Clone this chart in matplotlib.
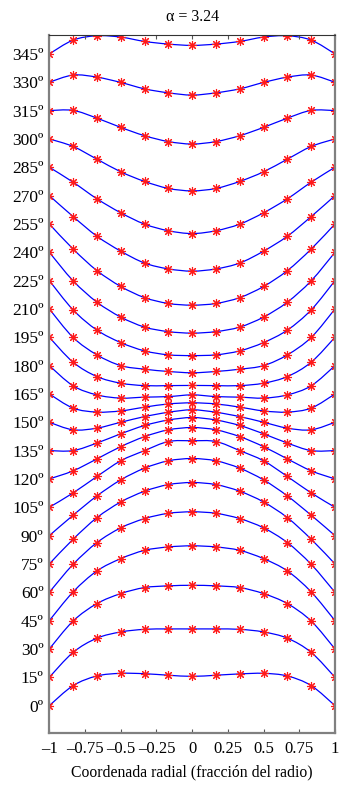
import numpy as np
import matplotlib
matplotlib.use("Agg")
import matplotlib.pyplot as plt
from matplotlib.path import Path
from matplotlib.patches import PathPatch

plt.rcParams["font.family"] = ["Liberation Serif", "DejaVu Serif"]
plt.rcParams["mathtext.fontset"] = "stix"

# radial positions of the samples (fraction of radius)
r = [-1, -5/6, -2/3, -1/2, -1/3, -1/6, 0, 1/6, 1/3, 1/2, 2/3, 5/6, 1]

# angle (deg) of each isoline at the sampled radial positions
curves = [
    [0, 10.6, 15.7, 17.1, 16.9, 16.1, 15.5, 16.1, 16.8, 17.1, 15.7, 10.6, 0],
    [15, 28.2, 35.7, 39.0, 40.4, 40.6, 40.6, 40.6, 40.4, 39.0, 35.7, 28.2, 15],
    [30, 44.8, 54.0, 59.3, 62.5, 63.4, 63.7, 63.4, 62.5, 59.3, 54.0, 44.8, 30],
    [45, 60.2, 71.3, 77.8, 82.2, 84.0, 84.6, 84.0, 82.2, 77.8, 71.3, 60.2, 45],
    [60, 74.8, 86.3, 94.1, 99.0, 101.8, 102.6, 101.8, 99.0, 94.1, 86.3, 74.8, 60],
    [75, 88.1, 99.5, 107.8, 113.5, 117.0, 118.1, 117.0, 113.5, 107.8, 99.5, 88.1, 75],
    [90, 100.8, 111.0, 119.5, 125.7, 129.6, 130.8, 129.6, 125.7, 119.5, 111.0, 100.8, 90],
    [105, 112.6, 121.3, 129.6, 135.0, 139.8, 140.2, 139.8, 135.0, 129.6, 121.3, 112.6, 105],
    [120, 124.3, 130.6, 137.1, 142.4, 146.0, 147.2, 146.0, 142.4, 137.1, 130.6, 124.3, 120],
    [135, 135.0, 139.0, 143.9, 148.3, 151.2, 152.5, 151.2, 148.3, 143.9, 139.0, 135.0, 135],
    [150, 146.0, 146.9, 150.0, 153.0, 155.3, 156.6, 155.3, 153.0, 150.0, 146.9, 146.0, 150],
    [165, 157.5, 155.4, 156.0, 158.0, 159.7, 160.3, 159.7, 158.0, 156.0, 155.4, 157.5, 165],
    [180, 169.3, 164.5, 162.8, 163.3, 163.6, 164.5, 163.6, 163.3, 162.8, 164.5, 169.3, 180],
    [195, 181.8, 174.2, 170.7, 169.4, 169.4, 169.5, 169.4, 169.4, 170.7, 174.2, 181.8, 195],
    [210, 194.9, 185.7, 180.0, 178.1, 176.9, 176.2, 176.9, 178.1, 180.0, 185.7, 194.9, 210],
    [225, 209.5, 198.8, 192.2, 187.8, 185.7, 185.3, 185.7, 187.8, 192.2, 198.8, 209.5, 225],
    [240, 224.9, 213.6, 205.7, 200.4, 198.0, 197.2, 198.0, 200.4, 205.7, 213.6, 224.9, 240],
    [255, 241.7, 230.3, 221.9, 216.0, 212.9, 212.0, 212.9, 216.0, 221.9, 230.3, 241.7, 255],
    [270, 258.9, 248.5, 240.6, 234.3, 231.2, 230.0, 231.2, 234.3, 240.6, 248.5, 258.9, 270],
    [285, 277.1, 268.3, 260.9, 254.9, 251.4, 249.9, 251.4, 254.9, 260.9, 268.3, 277.1, 285],
    [300, 296.0, 289.3, 282.6, 277.5, 273.8, 272.5, 273.8, 277.5, 282.6, 289.3, 296.0, 300],
    [315, 315.1, 311.0, 306.1, 301.7, 298.6, 297.3, 298.6, 301.7, 306.1, 311.0, 315.1, 315],
    [330, 333.8, 332.7, 329.9, 326.5, 324.4, 323.2, 324.4, 326.5, 329.9, 332.7, 333.8, 330],
    [345, 352.3, 354.6, 353.9, 351.6, 350.2, 349.5, 350.2, 351.6, 353.9, 354.6, 352.3, 345],
]

yticks = list(range(0, 346, 15))
ylabels = [f"{t}º" for t in yticks]
xticks = [-1, -0.75, -0.5, -0.25, 0, 0.25, 0.5, 0.75, 1]
xlabels = ["\u20131", "\u20130.75", "\u20130.5", "\u20130.25", "0", "0.25", "0.5", "0.75", "1"]


def smooth_path(xs, ys):
    # Catmull-Rom through the samples, drawn as cubic Bezier segments
    p = np.column_stack([xs, ys])
    ext = np.vstack([p[0], p, p[-1]])
    verts = [p[0]]
    codes = [Path.MOVETO]
    for i in range(1, len(ext) - 2):
        p0, p1, p2, p3 = ext[i - 1], ext[i], ext[i + 1], ext[i + 2]
        verts += [p1 + (p2 - p0) / 6, p2 - (p3 - p1) / 6, p2]
        codes += [Path.CURVE4] * 3
    return Path(verts, codes)


fig = plt.figure(figsize=(3.39, 7.85), dpi=100)
ax = fig.add_axes([0.1454, 0.0662, 0.8428, 0.8892])

for ys in curves:
    ax.add_patch(PathPatch(smooth_path(r, ys), fill=False, edgecolor="#0000ff", lw=0.9))
    ax.plot(r, ys, ls="none", marker=(8, 2, 0), ms=6.5, mec="#ff1a1a", mew=0.8)

ax.set_xlim(-1, 1)
ax.set_ylim(-14.5, 355)
ax.set_xticks(xticks)
ax.set_xticklabels(xlabels, fontsize=12)
ax.set_yticks(yticks)
ax.set_yticklabels(ylabels, fontsize=12.5)
ax.tick_params(direction="in", length=3, top=True, color="#555555")
ax.tick_params(axis="y", length=0, pad=4)
ax.tick_params(axis="x", pad=6)

for s in ["left", "right", "bottom"]:
    ax.spines[s].set_color("#808080")
    ax.spines[s].set_linewidth(1.6)
ax.spines["top"].set_color("#333333")
ax.spines["top"].set_linewidth(0.8)

ax.set_title("α = 3.24", fontsize=11.5, pad=10)
ax.set_xlabel("Coordenada radial (fracción del radio)", fontsize=11.3, labelpad=5)

fig.savefig("out.png", dpi=100)
